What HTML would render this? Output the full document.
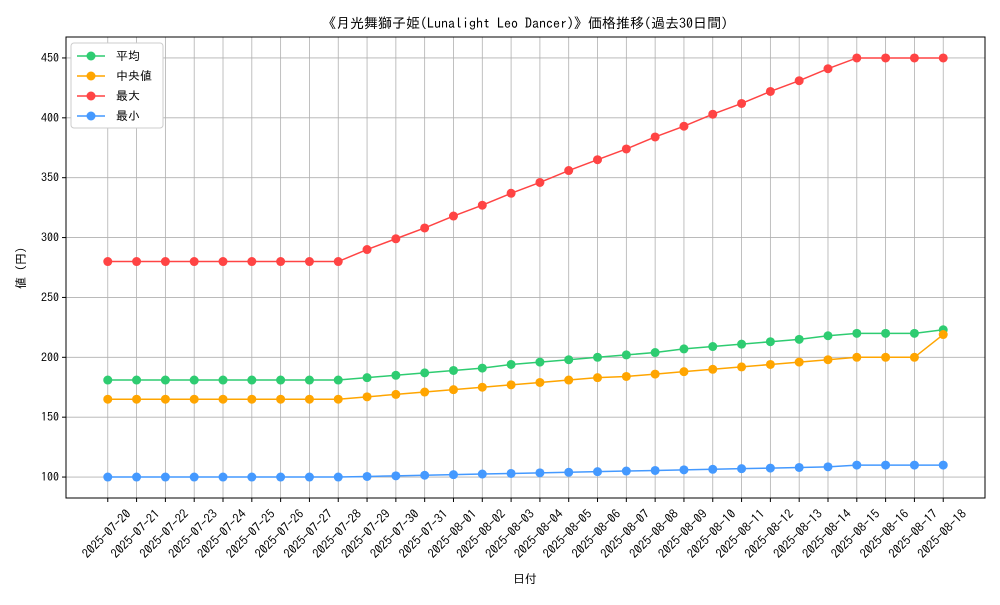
<!DOCTYPE html>
<html><head><meta charset="utf-8"><style>
body{margin:0;background:#fff;font-family:"Liberation Sans","IPAGothic",sans-serif;}
svg text{font-family:"IPAGothic","Noto Sans CJK JP",sans-serif;fill:#000;}
</style></head><body>
<svg id="chart" width="1000" height="600" xmlns="http://www.w3.org/2000/svg">
<text x="525" y="28" font-size="14" text-anchor="middle">《月光舞獅子姫(Lunalight Leo Dancer)》価格推移(過去30日間)</text>
<text x="525" y="583" font-size="12" text-anchor="middle">日付</text>
<text x="25" y="268" font-size="12" text-anchor="middle" transform="rotate(-90 25 268)">値 (円)</text>
<g id="grid"></g><g id="axes"></g><g id="series"></g><g id="legend"></g>
</svg>
<script>
const dates=["2025-07-20","2025-07-21","2025-07-22","2025-07-23","2025-07-24","2025-07-25","2025-07-26","2025-07-27","2025-07-28","2025-07-29","2025-07-30","2025-07-31","2025-08-01","2025-08-02","2025-08-03","2025-08-04","2025-08-05","2025-08-06","2025-08-07","2025-08-08","2025-08-09","2025-08-10","2025-08-11","2025-08-12","2025-08-13","2025-08-14","2025-08-15","2025-08-16","2025-08-17","2025-08-18"];
const meanVals=[181,181,181,181,181,181,181,181,181,183,185,187,189,191,194,196,198,200,202,204,207,209,211,213,215,218,220,220,220,223];
const medianVals=[165,165,165,165,165,165,165,165,165,167,169,171,173,175,177,179,181,183,184,186,188,190,192,194,196,198,200,200,200,219];
const maxVals=[280,280,280,280,280,280,280,280,280,290,299,308,318,327,337,346,356,365,374,384,393,403,412,422,431,441,450,450,450,450];
const minVals=[100,100,100,100,100,100,100,100,100,100.5,101,101.5,102,102.5,103,103.5,104,104.5,105,105.5,106,106.5,107,107.5,108,108.5,110,110,110,110];
const yTicks=[100,150,200,250,300,350,400,450];
const names=["平均","中央値","最大","最小"];
const colors=["#2ecc71","#ffa500","#ff4444","#4499ff"];
const NS="http://www.w3.org/2000/svg";
const L=66,R=985,T=37,B=498;
const n=dates.length,xm=(n-1)*0.05;
const x=i=>L+(i+xm)/((n-1)+2*xm)*(R-L);
const all=[].concat(meanVals,medianVals,maxVals,minVals);
const ymin0=Math.min(...all),ymax0=Math.max(...all),ym=(ymax0-ymin0)*0.05;
const y=v=>B-(v-(ymin0-ym))/((ymax0-ymin0)+2*ym)*(B-T);
function mk(tag,attrs,parent){const e=document.createElementNS(NS,tag);for(const k in attrs)e.setAttribute(k,attrs[k]);parent.appendChild(e);return e;}
const grid=document.getElementById('grid'),axes=document.getElementById('axes'),ser=document.getElementById('series'),leg=document.getElementById('legend');
dates.forEach((d,i)=>{
 const g=mk('line',{x1:x(i),x2:x(i),y1:T,y2:B,stroke:'#b0b0b0','stroke-width':0.8},grid);
 
 
 const t=mk('line',{x1:x(i),x2:x(i),y1:B,y2:B+4,stroke:'#000'},axes);
 
 
 const cx=x(i)-1,cy=B+36;
 const tx=mk('text',{x:cx,y:cy+4,'font-size':12.5,'text-anchor':'middle',transform:`rotate(-45 ${cx} ${cy})`},axes);
 tx.textContent=d;
 
 
});
yTicks.forEach(v=>{
 const g=mk('line',{x1:L,x2:R,y1:y(v),y2:y(v),stroke:'#b0b0b0','stroke-width':0.8},grid);
 
 
 const t=mk('line',{x1:L-4,x2:L,y1:y(v),y2:y(v),stroke:'#000'},axes);
 
 
 const tx=mk('text',{x:L-7,y:y(v)+4,'font-size':12,'text-anchor':'end'},axes);
 tx.textContent=v;
 
 
});
const frame=mk('rect',{x:L,y:T,width:R-L,height:B-T,fill:'none',stroke:'#000','stroke-width':1},axes);


const seriesData=[meanVals,medianVals,maxVals,minVals];
const snames=['mean','median','max','min'];
seriesData.forEach((vals,s)=>{
 const p=mk('polyline',{points:vals.map((v,i)=>x(i)+','+y(v)).join(' '),fill:'none',stroke:colors[s],'stroke-width':1.5},ser);
 
 
 vals.forEach((v,i)=>{
  const c=mk('circle',{cx:x(i),cy:y(v),r:4.5,fill:colors[s]},ser);
  
  
 });
});
const lb=mk('rect',{x:71,y:43,width:92,height:85,fill:'#fff',stroke:'#ccc',rx:3},leg);


names.forEach((nm,s)=>{
 const yy=56+s*20;
 const l=mk('line',{x1:77,x2:105,y1:yy,y2:yy,stroke:colors[s],'stroke-width':1.5},leg);
 
 
 const c=mk('circle',{cx:91,cy:yy,r:4.5,fill:colors[s]},leg);
 
 
 const t=mk('text',{x:116,y:yy+4,'font-size':12},leg);
 t.textContent=nm;
 
 
});
</script>
</body></html>
